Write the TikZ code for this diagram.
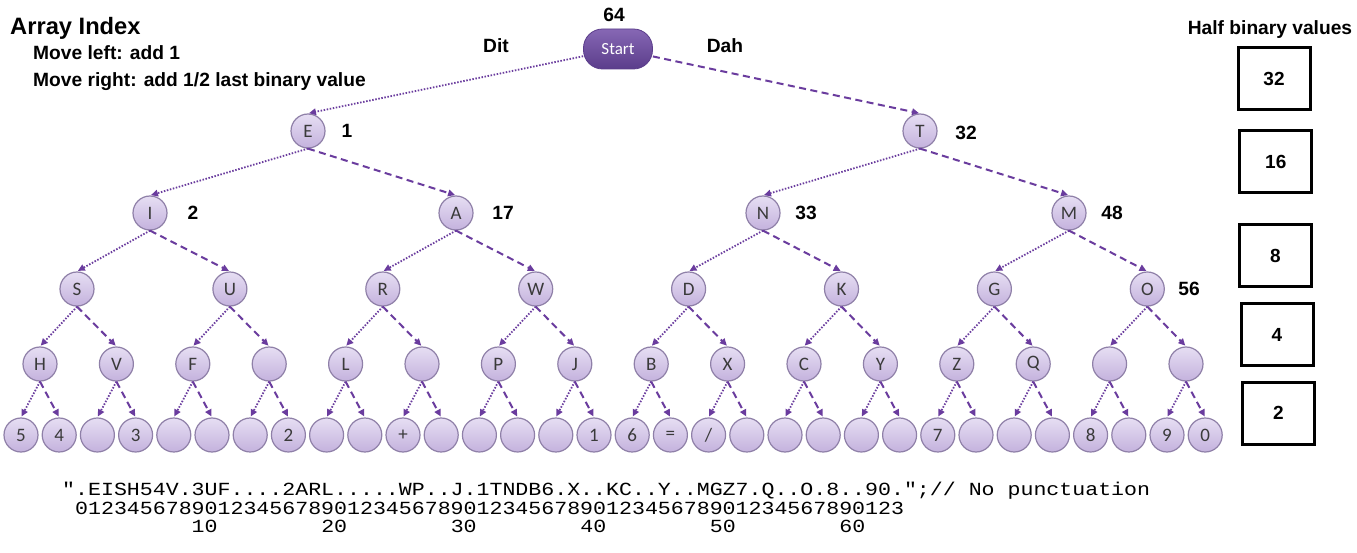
\documentclass[tikz,border=0pt]{standalone}
\usepackage{fontspec}
\setmainfont{Liberation Sans}
\newfontfamily\nodefont{Carlito}
\newfontfamily\codefont{Liberation Mono}
\usetikzlibrary{arrows.meta}
\definecolor{edgepurple}{HTML}{6A3C9E}
\definecolor{nodetop}{HTML}{E6DEF3}
\definecolor{nodebot}{HTML}{C4B2DD}
\definecolor{nodeedge}{HTML}{8F80A8}
\definecolor{starttop}{HTML}{8667B4}
\definecolor{startbot}{HTML}{5B3D8B}
\definecolor{nodetext}{HTML}{3A3A3A}
\begin{document}
\begin{tikzpicture}[x=1pt,y=-1pt,
  tnode/.style={circle, draw=nodeedge, line width=1.2pt, top color=nodetop, bottom color=nodebot,
    minimum size=34pt, inner sep=0pt, text=nodetext, font=\nodefont\fontsize{19}{19}\selectfont},
  startnode/.style={rectangle, rounded corners=19pt, minimum width=69pt, minimum height=40pt,
    top color=starttop, bottom color=startbot, draw=startbot, line width=0.8pt, text=white,
    font=\nodefont\fontsize{17}{17}\selectfont},
  dit/.style={draw=edgepurple, line width=1.8pt, dash pattern=on 1.5pt off 1.6pt,
    -{Triangle[length=7pt,width=6.5pt]}, shorten >=1pt},
  dah/.style={draw=edgepurple, line width=2pt, dash pattern=on 7pt off 4.5pt,
    -{Triangle[length=7pt,width=6.5pt]}, shorten >=1pt},
  lbl/.style={inner sep=0pt, font=\bfseries\fontsize{19.2}{20}\selectfont},
  hbox/.style={draw, line width=3pt, minimum width=72pt, minimum height=62pt, inner sep=0pt,
    font=\bfseries\fontsize{19}{20}\selectfont},
  codetxt/.style={inner sep=0pt, anchor=base west, font=\codefont\fontsize{18.5}{18.5}\selectfont, transform shape}
]
\useasboundingbox (0,0) rectangle (1357,553);
\fill[white] (0,0) rectangle (1357,553);

% header texts
\node[inner sep=0pt, anchor=base west, font=\bfseries\fontsize{23.7}{24}\selectfont] (title) at (10,35) {Array Index};
\node[inner sep=0pt, anchor=base west, font=\bfseries\fontsize{19.2}{20}\selectfont] (mleft) at (33,60) {Move left: add 1};
\node[inner sep=0pt, anchor=base west, font=\bfseries\fontsize{19.2}{20}\selectfont] (mright) at (33,86.5) {Move right: add 1/2 last binary value};

% start
\node[startnode] (start) at (618,49) {Start};
\node[lbl] (v64) at (614,15) {64};
\node[lbl] (dit) at (496,46) {Dit};
\node[lbl] (dah) at (725,46) {Dah};

% tree nodes
\foreach \t/\xx [count=\j from 0] in {E/308,T/920}
  \node[tnode] (L1-\j) at (\xx,131) {\t};
\foreach \t/\xx [count=\j from 0] in {I/150,A/456,N/763,M/1069}
  \node[tnode] (L2-\j) at (\xx,213) {\t};
\foreach \t [count=\j from 0] in {S,U,R,W,D,K,G,O}
  \node[tnode] (L3-\j) at ({77+152.9*\j},289) {\t};
\foreach \t [count=\j from 0] in {H,V,F,{},L,{},P,J,B,X,C,Y,Z,Q,{},{}}
  \node[tnode] (L4-\j) at ({40+76.4*\j},364) {\t};
\foreach \t [count=\j from 0] in {5,4,{},3,{},{},{},2,{},{},+,{},{},{},{},1,6,=,{/},{},{},{},{},{},7,{},{},{},8,{},9,0}
  \node[tnode] (L5-\j) at ({21+38.2*\j},435) {\t};

% edges
\draw[dit] (start) -- (L1-0.north);
\draw[dah] (start) -- (L1-1.north);
\foreach \i in {1,...,4}{
  \pgfmathtruncatemacro\ii{\i+1}
  \pgfmathtruncatemacro\nmax{2^\i-1}
  \foreach \j in {0,...,\nmax}{
    \pgfmathtruncatemacro\ca{2*\j}
    \pgfmathtruncatemacro\cb{2*\j+1}
    \draw[dit] (L\i-\j.south) -- (L\ii-\ca.north);
    \draw[dah] (L\i-\j.south) -- (L\ii-\cb.north);
  }
}

% index labels
\node[lbl] (v1) at (347,131) {1};
\node[lbl] (v32) at (966,133) {32};
\node[lbl] (v2) at (193,213) {2};
\node[lbl] (v17) at (503,213) {17};
\node[lbl] (v33) at (806,213) {33};
\node[lbl] (v48) at (1112,213) {48};
\node[lbl] (v56) at (1189,289) {56};

% half binary values
\node[inner sep=0pt, anchor=base, font=\bfseries\fontsize{19.2}{20}\selectfont] (hbv) at (1270,35) {Half binary values};
\node[hbox] (b32) at (1274,79) {32};
\node[hbox] (b16) at (1275.8,161.7) {16};
\node[hbox] (b8) at (1275.5,255.5) {8};
\node[hbox] (b4) at (1277,334.5) {4};
\node[hbox] (b2) at (1278.5,413) {2};

% code lines
\begin{scope}[shift={(62,495)}, xscale=1.1667]
\node[codetxt] (code1) at (0,0) {".EISH54V.3UF....2ARL.....WP..J.1TNDB6.X..KC..Y..MGZ7.Q..O.8..90.";// No punctuation};
\node[codetxt] (code2) at (11.1,19) {0123456789012345678901234567890123456789012345678901234567890123};
\node[codetxt] (code3) at (111,37) {10~~~~~~~~20~~~~~~~~30~~~~~~~~40~~~~~~~~50~~~~~~~~60};
\end{scope}
\end{tikzpicture}
\end{document}
